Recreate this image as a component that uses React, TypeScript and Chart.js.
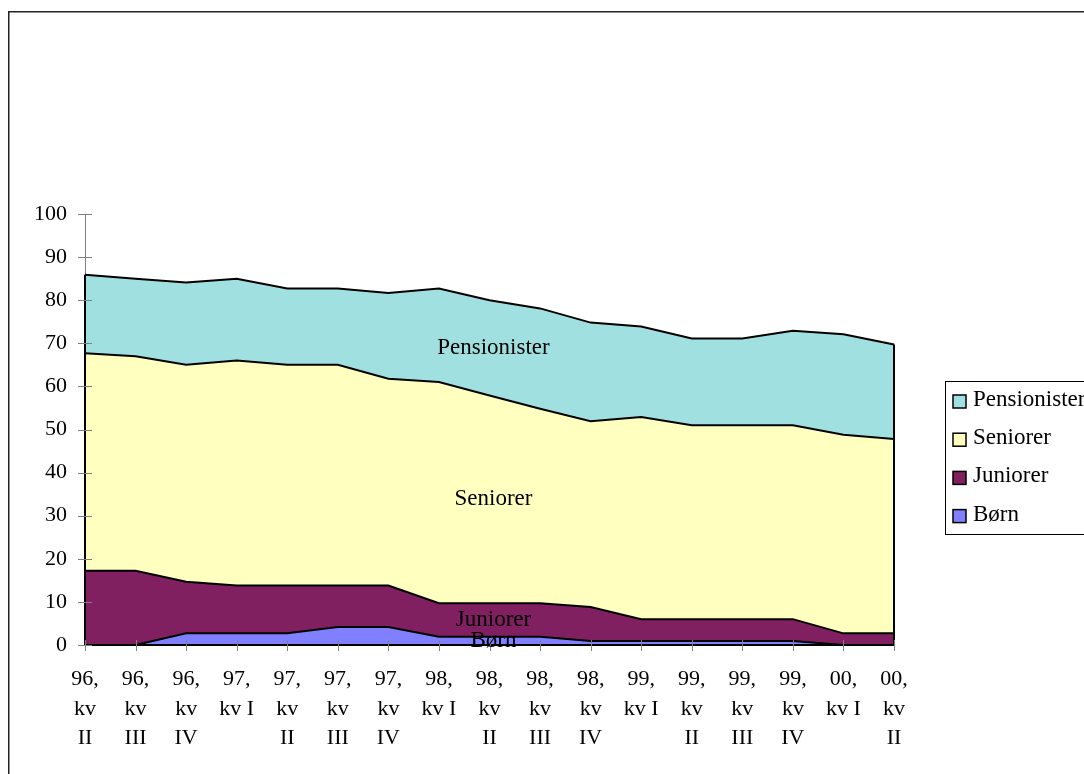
import React, { useEffect, useRef } from "react";
import { Chart, registerables } from "chart.js";

Chart.register(...registerables);

const categories = [
  "96, kv II", "96, kv III", "96, kv IV", "97, kv I", "97, kv II", "97, kv III", "97, kv IV",
  "98, kv I", "98, kv II", "98, kv III", "98, kv IV", "99, kv I", "99, kv II", "99, kv III",
  "99, kv IV", "00, kv I", "00, kv II",
];
const born = [0, 0, 2.7, 2.7, 2.7, 4.2, 4.2, 1.9, 1.9, 1.9, 0.9, 0.9, 0.9, 0.9, 0.9, 0, 0];
const juniorer = [17.2, 17.2, 12.0, 11.1, 11.1, 9.6, 9.6, 7.8, 7.8, 7.8, 7.9, 5.1, 5.1, 5.1, 5.1, 2.7, 2.7];
const seniorer = [50.5, 49.8, 50.3, 52.2, 51.2, 51.2, 48.0, 51.3, 48.2, 45.1, 43.1, 46.9, 45.0, 45.0, 45.0, 46.1, 45.1];
const pensionister = [18.2, 18.0, 19.1, 19.0, 17.7, 17.7, 19.9, 21.7, 22.1, 23.3, 22.9, 21.0, 20.1, 20.1, 21.9, 23.3, 21.9];

const seriesNames = ["Børn", "Juniorer", "Seniorer", "Pensionister"];
const seriesColors = ["#8080FF", "#802060", "#FFFFC0", "#A0E0E0"];
const yMin = 0;
const yMax = 100;
const yStep = 10;
const labelIndex = 8;

const FONT = "'Liberation Serif', 'Times New Roman', serif";

function wrapLabel(s: string): string[] {
  const [year, kv, q] = s.split(" ");
  return q === "I" ? [year, kv + " " + q] : [year, kv, q];
}

const decorPlugin = {
  id: "decor",
  afterDatasetsDraw(chart: any) {
    const ctx = chart.ctx as CanvasRenderingContext2D;
    const xs = chart.scales.x;
    const ys = chart.scales.y;
    const sets = chart.data.datasets;
    const n = categories.length;
    const total = (i: number) => sets.reduce((a: number, d: any) => a + (d.data[i] as number), 0);
    ctx.save();
    // area edge outlines
    ctx.strokeStyle = "#000";
    ctx.lineWidth = 2;
    ctx.beginPath();
    ctx.moveTo(xs.getPixelForValue(0), ys.getPixelForValue(0));
    ctx.lineTo(xs.getPixelForValue(0), ys.getPixelForValue(total(0)));
    ctx.moveTo(xs.getPixelForValue(n - 1), ys.getPixelForValue(0));
    ctx.lineTo(xs.getPixelForValue(n - 1), ys.getPixelForValue(total(n - 1)));
    ctx.moveTo(xs.getPixelForValue(0), ys.getPixelForValue(0));
    ctx.lineTo(xs.getPixelForValue(n - 1), ys.getPixelForValue(0));
    ctx.stroke();
    // cross tick marks
    ctx.strokeStyle = "#808080";
    ctx.lineWidth = 1;
    ctx.beginPath();
    const y0 = ys.getPixelForValue(0);
    for (let i = 0; i < n; i++) {
      const px = Math.round(xs.getPixelForValue(i)) + 0.5;
      ctx.moveTo(px, y0 - 5);
      ctx.lineTo(px, y0 + 6);
    }
    const xl = xs.getPixelForValue(0);
    for (let v = yMin; v <= yMax; v += yStep) {
      const py = Math.round(ys.getPixelForValue(v)) + 0.5;
      ctx.moveTo(xl - 7, py);
      ctx.lineTo(xl + 7, py);
    }
    ctx.stroke();
    // series name labels inside bands
    ctx.fillStyle = "#000";
    ctx.font = "23px " + FONT;
    ctx.textAlign = "center";
    ctx.textBaseline = "middle";
    let base = 0;
    const lx = xs.getPixelForValue(labelIndex) + 4;
    sets.forEach((d: any) => {
      const v = d.data[labelIndex] as number;
      ctx.fillText(d.label, lx, ys.getPixelForValue(base + v / 2));
      base += v;
    });
    ctx.restore();
  },
  afterDraw(chart: any) {
    const ctx = chart.ctx as CanvasRenderingContext2D;
    const sets = chart.data.datasets;
    ctx.save();
    // outer frame
    ctx.strokeStyle = "#222";
    ctx.lineWidth = 1.5;
    ctx.strokeRect(8.75, 11.75, 1300, 900);
    // legend
    ctx.lineWidth = 1;
    ctx.strokeStyle = "#000";
    ctx.strokeRect(945.5, 381.5, 300, 153);
    ctx.font = "23px " + FONT;
    ctx.textAlign = "left";
    ctx.textBaseline = "middle";
    const items = [...sets].reverse();
    items.forEach((d: any, k: number) => {
      const cy = 401 + k * 38.2;
      ctx.fillStyle = d.backgroundColor;
      ctx.fillRect(953, cy - 6, 13, 13);
      ctx.lineWidth = 1.5;
      ctx.strokeStyle = "#000";
      ctx.strokeRect(953, cy - 6, 13, 13);
      ctx.fillStyle = "#000";
      ctx.fillText(d.label, 973, cy - 1);
    });
    ctx.restore();
  },
};

export default function App() {
  const ref = useRef<HTMLCanvasElement | null>(null);
  useEffect(() => {
    if (!ref.current) return;
    const values = [born, juniorer, seniorer, pensionister];
    const chart = new Chart(ref.current, {
      type: "line",
      data: {
        labels: categories.map(wrapLabel),
        datasets: values.map((vals, i) => ({
          label: seriesNames[i],
          data: vals,
          backgroundColor: seriesColors[i],
          borderColor: "#000",
          borderWidth: 2,
          pointRadius: 0,
          tension: 0,
          fill: i === 0 ? "origin" : "-1",
        })),
      },
      options: {
        responsive: false,
        animation: false,
        layout: { padding: { left: 0, top: 214, right: 190, bottom: 0 } },
        plugins: { legend: { display: false }, tooltip: { enabled: false } },
        scales: {
          x: {
            type: "category",
            offset: false,
            grid: { display: false, drawTicks: false, tickLength: 0 },
            border: { display: false },
            ticks: {
              autoSkip: false,
              maxRotation: 0,
              minRotation: 0,
              padding: 20,
              color: "#000",
              font: { family: FONT, size: 22, lineHeight: 1.33 },
            },
            afterFit: (s: any) => {
              s.height = 129;
            },
          },
          y: {
            stacked: true,
            min: yMin,
            max: yMax,
            grid: { display: false, drawTicks: false, tickLength: 0 },
            border: { display: true, color: "#808080", width: 1 },
            ticks: {
              stepSize: yStep,
              padding: 18,
              color: "#000",
              font: { family: FONT, size: 22 },
            },
            afterFit: (s: any) => {
              s.width = 85;
            },
          },
        },
      },
      plugins: [decorPlugin],
    });
    return () => chart.destroy();
  }, []);
  return (
    <div style={{ position: "fixed", left: 0, top: 0, width: 1084, height: 774, background: "#fff" }}>
      <canvas ref={ref} width={1084} height={774} />
    </div>
  );
}
